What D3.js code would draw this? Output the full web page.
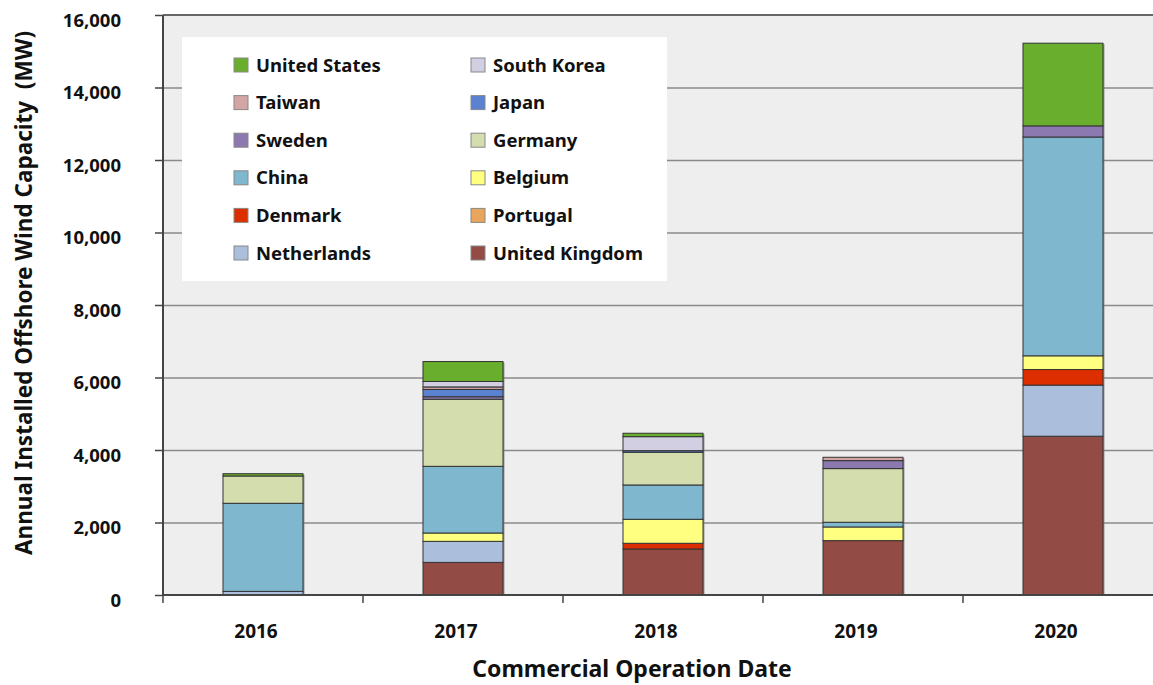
<!DOCTYPE html>
<html>
<head>
<meta charset="utf-8">
<script src="https://cdn.jsdelivr.net/npm/d3@7"></script>
<style>
body { margin:0; background:#fff; }
svg text { font-family: "Noto Sans", "Open Sans", sans-serif; font-weight:bold; fill:#111; }
</style>
</head>
<body>
<div id="my_viz"></div>
<script>
// data (MW)
const years = ["2016", "2017", "2018", "2019", "2020"]
const unitedKingdom = [0, 900, 1270, 1500, 4380]
const netherlands = [100, 580, 0, 0, 1410]
const portugal = [0, 0, 0, 0, 0]
const denmark = [0, 0, 157, 0, 430]
const belgium = [0, 230, 662, 377, 378]
const china = [2430, 1840, 946, 130, 6036]
const germany = [753, 1850, 903, 1480, 0]
const sweden = [0, 70, 0, 220, 307]
const japan = [0, 200, 44, 0, 0]
const taiwan = [0, 70, 0, 92, 0]
const southKorea = [0, 150, 386, 0, 0]
const unitedStates = [63, 550, 94, 0, 2281]
const yTicks = [0, 2000, 4000, 6000, 8000, 10000, 12000, 14000, 16000]

// stacking order, bottom to top
const series = [
	{key:"United Kingdom", values:unitedKingdom, color:"#924b45"},
	{key:"Netherlands", values:netherlands, color:"#abbfdc"},
	{key:"Portugal", values:portugal, color:"#e8a55c"},
	{key:"Denmark", values:denmark, color:"#dd2e00"},
	{key:"Belgium", values:belgium, color:"#ffff80"},
	{key:"China", values:china, color:"#7fb8ce"},
	{key:"Germany", values:germany, color:"#d4ddae"},
	{key:"Sweden", values:sweden, color:"#8b79b0"},
	{key:"Japan", values:japan, color:"#5b82d0"},
	{key:"Taiwan", values:taiwan, color:"#d4a5a5"},
	{key:"South Korea", values:southKorea, color:"#d2cfe3"},
	{key:"United States", values:unitedStates, color:"#6aae2d"}
]

const width = 1153
const height = 685
const margin = {top:15, left:163, bottom:90}
const bounded = {width:1000, height:height - margin.top - margin.bottom}

var svg = d3.select("#my_viz")
.append("svg")
.attr("width", width)
.attr("height", height)

var group = svg.append("g")
.attr("transform", "translate(" + margin.left + "," + margin.top + ")")

// table for d3.stack
var table = years.map((y, i) => {
	var row = {year:y}
	series.forEach(s => row[s.key] = s.values[i])
	return row
})
var keys = series.map(s => s.key)
var color = d3.scaleOrdinal().domain(keys).range(series.map(s => s.color))
var stackedData = d3.stack().keys(keys)(table)

var xScale = d3.scaleBand().domain(years).range([0, bounded.width])
var yScale = d3.scaleLinear().domain([0, 16000]).range([bounded.height, 0])
const barW = xScale.bandwidth() * 0.4

// plot background
group.append("rect")
.attr("width", bounded.width)
.attr("height", bounded.height)
.attr("fill", "#eeeeee")

// gridlines
group.append("g")
.call(d3.axisLeft(yScale).tickValues(yTicks.slice(1, -1)).tickSize(-bounded.width).tickFormat(""))
.call(g => g.select(".domain").remove())
.selectAll(".tick line").attr("stroke", "#8a8a8a").attr("stroke-width", 1.6)

// top frame line
group.append("line")
.attr("x1", 0).attr("x2", bounded.width)
.attr("y1", yScale(16000)).attr("y2", yScale(16000))
.attr("stroke", "#666").attr("stroke-width", 2)

// legend box
var legend = group.append("g").attr("transform", "translate(19,22)")
legend.append("rect")
.attr("width", 485).attr("height", 244)
.attr("fill", "#fff")
var legendOrder = keys.slice().reverse()
var legendItem = legend.selectAll(".legend")
.data(legendOrder)
.enter()
.append("g")
.attr("class", "legend")
.attr("transform", (d, i) => "translate(" + (i % 2 == 0 ? 52 : 289) + "," + (28 + Math.floor(i / 2) * 37.6) + ")")
legendItem.append("rect")
.attr("x", 0).attr("y", -7)
.attr("width", 14).attr("height", 14)
.attr("fill", d => color(d))
.attr("stroke", "#888").attr("stroke-width", 1)
legendItem.append("text")
.attr("x", 22).attr("y", 0)
.attr("dy", "0.36em")
.style("font-size", "18.5px")
.text(d => d)

// bar shadows
group.selectAll(".shadow")
.data(years)
.enter()
.append("rect")
.attr("class", "shadow")
.attr("x", d => xScale(d) + (xScale.bandwidth() - barW) / 2 + 1.5)
.attr("y", (d, i) => yScale(stackedData[stackedData.length - 1][i][1]) + 1)
.attr("width", barW)
.attr("height", (d, i) => bounded.height - yScale(stackedData[stackedData.length - 1][i][1]) - 1)
.attr("fill", "#777").attr("opacity", 0.7)

// stacked bars
group.selectAll(".layer")
.data(stackedData)
.enter()
.append("g")
.attr("class", "layer")
.attr("fill", d => color(d.key))
.selectAll("rect")
.data(d => d.filter(v => v[1] - v[0] > 0))
.enter()
.append("rect")
.attr("x", d => xScale(d.data.year) + (xScale.bandwidth() - barW) / 2)
.attr("y", d => yScale(d[1]))
.attr("width", barW)
.attr("height", d => yScale(d[0]) - yScale(d[1]))
.attr("stroke", "#333")
.attr("stroke-width", 1)

// y axis
var yAxisG = group.append("g")
.call(d3.axisLeft(yScale).tickValues(yTicks).tickSize(8).tickPadding(34).tickFormat(d3.format(",")))
yAxisG.select(".domain").remove()
yAxisG.selectAll(".tick line").attr("stroke", "#444").attr("stroke-width", 1.5)
yAxisG.selectAll(".tick text").attr("dy", "0.6em").style("font-size", "18.5px")
group.append("line")
.attr("x1", 0).attr("x2", 0)
.attr("y1", yScale(16000)).attr("y2", bounded.height)
.attr("stroke", "#444").attr("stroke-width", 2)

// x axis
var xAxisG = group.append("g")
.attr("transform", "translate(0," + bounded.height + ")")
.call(d3.axisBottom(xScale).tickSize(0).tickPadding(30))
xAxisG.select(".domain").remove()
xAxisG.selectAll(".tick text").attr("dx", -7).style("font-size", "19px")
group.append("line")
.attr("x1", 0).attr("x2", bounded.width)
.attr("y1", bounded.height).attr("y2", bounded.height)
.attr("stroke", "#444").attr("stroke-width", 2)
// category boundary ticks
group.selectAll(".xtick")
.data(years)
.enter()
.append("line")
.attr("x1", d => xScale(d)).attr("x2", d => xScale(d))
.attr("y1", bounded.height).attr("y2", bounded.height + 8)
.attr("stroke", "#444").attr("stroke-width", 1.5)

// axis titles
svg.append("text")
.attr("transform", "rotate(-90)")
.attr("x", -293)
.attr("y", 32)
.style("text-anchor", "middle")
.style("font-size", "22.5px")
.text("Annual Installed Offshore Wind Capacity\u00a0\u00a0(MW)")

svg.append("text")
.attr("x", 632)
.attr("y", 677)
.style("text-anchor", "middle")
.style("font-size", "23px")
.text("Commercial Operation Date")
</script>
</body>
</html>
